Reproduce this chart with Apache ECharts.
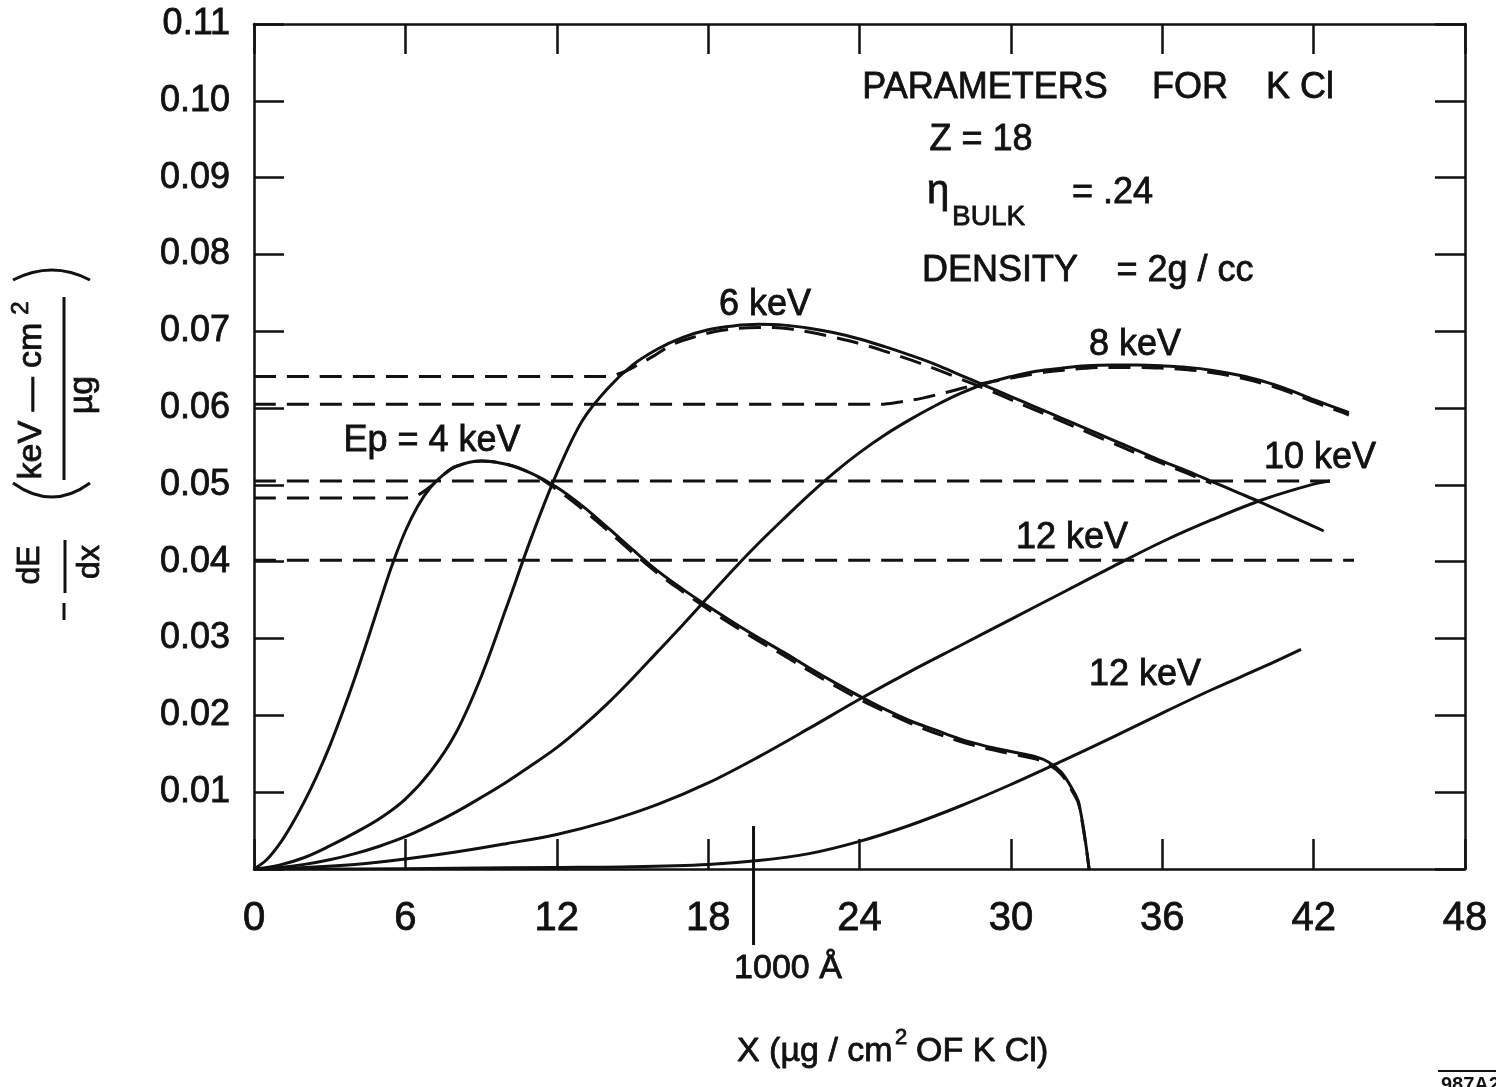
<!DOCTYPE html>
<html><head><meta charset="utf-8">
<script src="https://cdn.jsdelivr.net/npm/echarts@6/dist/echarts.min.js"></script>
<style>html,body{margin:0;padding:0;background:#fff}#c{width:1496px;height:1087px}</style>
</head><body><div id="c"></div>
<script>
// ---- tick labels ----
const xTickLabels = ['0','6','12','18','24','30','36','42','48'];
const yTickLabels = ['','0.01','0.02','0.03','0.04','0.05','0.06','0.07','0.08','0.09','0.10','0.11'];

// ---- solid curves: [x (µg/cm²), -dE/dx (keV-cm²/µg)] ----
const curve4keV = [[0,0],[0.5,0.0012],[1,0.0032],[1.5,0.0058],[2,0.0088],[2.5,0.0122],[3,0.016],[3.5,0.0203],[4,0.0249],[4.5,0.0298],[5,0.0349],[5.5,0.0398],[6,0.044],[6.5,0.0473],[7,0.0497],[7.5,0.0513],[8,0.0524],[9,0.0531],[10,0.0527],[11,0.0515],[12,0.0497],[13,0.0473],[14,0.0445],[15,0.0416],[16,0.0388],[17,0.0364],[18,0.0342],[19,0.0321],[20,0.0301],[21,0.0282],[22,0.0262],[23,0.0243],[24,0.0225],[25,0.0208],[26,0.0193],[27,0.0181],[28,0.0169],[29,0.016],[30,0.0153],[31,0.0146],[31.5,0.0139],[32,0.0126],[32.4,0.0106],[32.7,0.0085],[33.1,0]];
const curve6keV = [[0,0],[1,0.0005],[2,0.0015],[3,0.003],[4,0.0047],[5,0.0066],[6,0.0091],[7,0.0127],[8,0.0177],[9,0.025],[10,0.034],[11,0.0432],[12,0.0515],[13,0.0583],[14,0.0625],[15,0.0656],[16,0.0677],[17,0.0692],[18,0.0702],[19,0.0707],[20,0.0709],[21,0.0708],[22,0.0704],[23,0.0698],[24,0.069],[25,0.068],[26,0.0669],[27,0.0657],[28,0.0643],[29,0.0629],[30,0.0615],[31,0.0601],[32,0.0587],[33,0.0573],[34,0.0559],[35,0.0545],[36,0.0531],[37,0.0518],[38,0.0504],[39,0.049],[40,0.0476],[41,0.0461],[42,0.0446],[42.4,0.044]];
const curve8keV = [[0,0],[1,0.0002],[2,0.0006],[3,0.0012],[4,0.002],[5,0.003],[6,0.0042],[7,0.0057],[8,0.0074],[9,0.0093],[10,0.0113],[11,0.0135],[12,0.0158],[13,0.0185],[14,0.0215],[15,0.0248],[16,0.0283],[17,0.0318],[18,0.0354],[19,0.039],[20,0.0424],[21,0.0456],[22,0.0487],[23,0.0516],[24,0.0542],[25,0.0565],[26,0.0585],[27,0.0603],[28,0.0619],[29,0.0632],[30,0.0641],[31,0.0648],[32,0.0652],[33,0.0655],[34,0.0656],[35,0.0656],[36,0.0655],[37,0.0653],[38,0.0649],[39,0.0643],[40,0.0635],[41,0.0624],[42,0.0611],[43,0.0599],[43.4,0.0594]];
const curve10keV = [[0,0],[2,0.0002],[4,0.0006],[6,0.0013],[8,0.0022],[10,0.0033],[12,0.0045],[14,0.0062],[16,0.0084],[18,0.0112],[20,0.0146],[22,0.0183],[24,0.0221],[26,0.0257],[28,0.0291],[30,0.0325],[32,0.0359],[34,0.0393],[36,0.0426],[38,0.0455],[40,0.0481],[42,0.0501],[42.65,0.0505]];
const curve12keV = [[0,0],[4,0],[8,0.0001],[12,0.0002],[15,0.0003],[18,0.0006],[20,0.0011],[22,0.002],[24,0.0036],[26,0.0057],[28,0.0082],[30,0.011],[32,0.014],[34,0.0171],[36,0.0203],[38,0.0234],[40,0.0263],[41.5,0.0286]];

// ---- dashed (bulk) curves ----
const bulk4keV = [[0,0.0483],[6,0.0483],[6.5,0.0487],[7,0.0498],[7.5,0.0513],[8,0.0524],[9,0.0531],[10,0.0527],[11,0.0515],[12,0.0494],[13,0.0469],[14,0.0441],[15,0.0412],[16,0.0385],[17,0.0361],[18,0.0338],[19,0.0317],[20,0.0297],[21,0.0278],[22,0.0258],[23,0.0239],[24,0.0221],[25,0.0205],[26,0.019],[27,0.0177],[28,0.0166],[29,0.0157],[30,0.015],[31,0.0143],[31.5,0.0136],[32,0.0123],[32.4,0.0103],[32.7,0.0083],[33.1,0]];
const bulk6keV = [[0,0.0641],[13.9,0.0641],[14.5,0.0645],[15.2,0.0656],[15.9,0.0669],[16.6,0.0683],[17.5,0.0693],[18.5,0.0701],[20,0.0705],[21,0.0704],[22,0.0699],[23,0.0692],[24,0.0684],[25,0.0674],[26,0.0663],[27,0.0651],[28,0.0638],[29,0.0625],[30,0.0611],[31,0.0597],[32,0.0583],[33,0.0569],[34,0.0555],[35,0.0541],[36,0.0528],[37,0.0515],[37.95,0.0502]];
const bulk8keV = [[0,0.0605],[24.8,0.0605],[25.6,0.0608],[26.5,0.0613],[27.5,0.0621],[28.7,0.0631],[30,0.0639],[31,0.0645],[32,0.0649],[33,0.0652],[34,0.0653],[35,0.0653],[36,0.0652],[37,0.065],[38,0.0646],[39,0.064],[40,0.0632],[41,0.0621],[42,0.0608],[43,0.0596],[43.4,0.0591]];
const bulk10keV = [[0,0.0505],[42.65,0.0505]];
const bulk12keV = [[0,0.0402],[43.6,0.0402]];

// ---- 1000 Å marker (x = 1000 Å of KCl) ----
const marker1000A = [[19.8,0.0056],[19.8,-0.0099]];

const INK = '#111';
const FONT = 'Liberation Sans';
const BOLDEN = 0.8;

function solid(name, data){
  return {name, type:'line', data, symbol:'none', showSymbol:false, smooth:0.35,
    lineStyle:{color:INK, width:3}, silent:true, z:3};
}
function dashed(name, data){
  return {name, type:'line', data, symbol:'none', showSymbol:false, smooth:0.35,
    lineStyle:{color:INK, width:3, type:[22,11]}, silent:true, z:4};
}
const axisLine = {show:true, onZero:false, lineStyle:{color:INK, width:2.5}};
const axisTick = {show:true, inside:true, length:30, lineStyle:{color:INK, width:2.5}};

const chart = echarts.init(document.getElementById('c'), null, {renderer:'canvas'});
chart.setOption({
  animation:false,
  backgroundColor:'#fff',
  grid:{left:254, right:31, top:24, bottom:218, containLabel:false, outerBoundsMode:'none'},
  xAxis:[
    {type:'value', min:0, max:48, interval:6, position:'bottom', axisLine, axisTick,
     splitLine:{show:false},
     axisLabel:{show:true, margin:30, fontSize:40, fontFamily:FONT, color:INK, textBorderColor:INK, textBorderWidth:BOLDEN,
       showMinLabel:true, showMaxLabel:true, formatter:(v)=>xTickLabels[Math.round(v/6)]}},
    {type:'value', min:0, max:48, interval:6, position:'top', axisLine, axisTick,
     splitLine:{show:false}, axisLabel:{show:false}}
  ],
  yAxis:[
    {type:'value', min:0, max:0.11, interval:0.01, position:'left', axisLine, axisTick,
     splitLine:{show:false},
     axisLabel:{show:true, margin:24, fontSize:36, fontFamily:FONT, color:INK, textBorderColor:INK, textBorderWidth:BOLDEN,
       showMinLabel:true, showMaxLabel:true, formatter:(v)=>yTickLabels[Math.round(v/0.01)]}},
    {type:'value', min:0, max:0.11, interval:0.01, position:'right', axisLine, axisTick,
     splitLine:{show:false}, axisLabel:{show:false}}
  ],
  series:[
    solid('4 keV', curve4keV), solid('6 keV', curve6keV), solid('8 keV', curve8keV),
    solid('10 keV', curve10keV), solid('12 keV', curve12keV),
    dashed('4 keV bulk', bulk4keV), dashed('6 keV bulk', bulk6keV), dashed('8 keV bulk', bulk8keV),
    dashed('10 keV bulk', bulk10keV), dashed('12 keV bulk', bulk12keV)
  ]
});

function txt(text, x, y, size, opts){
  opts = opts || {};
  return {type:'text', x, y, z:10, silent:true,
    style:{text, fontSize:size, fontFamily:FONT, fontWeight:opts.weight||'normal', fill:INK,
      stroke:INK, lineWidth:BOLDEN,
      align:opts.align||'center', verticalAlign:'middle'}};
}
const p1 = chart.convertToPixel({xAxisIndex:0, yAxisIndex:0}, marker1000A[0]);
const p2 = chart.convertToPixel({xAxisIndex:0, yAxisIndex:0}, marker1000A[1]);

const yTitle = {
  type:'group', x:65, y:600, rotation:Math.PI/2, silent:true,
  children:[
    {type:'line', shape:{x1:-20,y1:-1,x2:-3,y2:-1}, style:{stroke:INK, lineWidth:3}},
    {type:'line', shape:{x1:7,y1:0,x2:60,y2:0}, style:{stroke:INK, lineWidth:3}},
    txt('dE', 35, -35, 32),
    txt('dx', 38, 25, 32),
    {type:'bezierCurve', shape:{x1:117,y1:-52,cpx1:89,cpy1:-13,x2:117,y2:25}, style:{stroke:INK, lineWidth:3, fill:null}},
    {type:'line', shape:{x1:120,y1:-1,x2:303,y2:-1}, style:{stroke:INK, lineWidth:3}},
    txt('keV — cm', 199, -33, 34),
    txt('2', 292, -44, 24),
    txt('µg', 205, 18, 34),
    {type:'bezierCurve', shape:{x1:320,y1:-52,cpx1:340,cpy1:-13,x2:320,y2:25}, style:{stroke:INK, lineWidth:3, fill:null}}
  ]
};

chart.setOption({graphic:[
  {type:'line', shape:{x1:p1[0],y1:p1[1],x2:p2[0],y2:p2[1]}, style:{stroke:INK, lineWidth:3}, z:10, silent:true},
  txt('1000 Å', 788, 969, 34),
  yTitle,
  // parameters block
  txt('PARAMETERS', 985, 88, 36),
  txt('FOR', 1190, 88, 36),
  txt('K Cl', 1300, 88, 36),
  txt('Z = 18', 981, 140, 36),
  txt('η', 938, 192, 40),
  txt('BULK', 952, 217, 28, {align:'left'}),
  txt('= .24', 1072, 193, 36, {align:'left'}),
  txt('DENSITY', 1000, 271, 36),
  txt('= 2g / cc', 1185, 271, 36),
  // curve labels
  txt('Ep = 4 keV', 432, 441, 36),
  txt('6 keV', 765, 305, 36),
  txt('8 keV', 1135, 345, 36),
  txt('10 keV', 1320, 458, 36),
  txt('12 keV', 1072, 538, 36),
  txt('12 keV', 1145, 675, 36),
  // x axis title
  txt('X (µg / cm', 737, 1052, 34, {align:'left'}),
  txt('2', 895, 1038, 22, {align:'left'}),
  txt('OF K Cl)', 916, 1052, 34, {align:'left'}),
  // figure id
  {type:'line', shape:{x1:1438,y1:1071,x2:1496,y2:1071}, style:{stroke:INK, lineWidth:2}, silent:true},
  {type:'text', x:1441, y:1075, silent:true, style:{text:'987A2', fontSize:20, fontFamily:FONT, fontWeight:'bold', fill:INK, align:'left', verticalAlign:'top'}}
]});
</script></body></html>
